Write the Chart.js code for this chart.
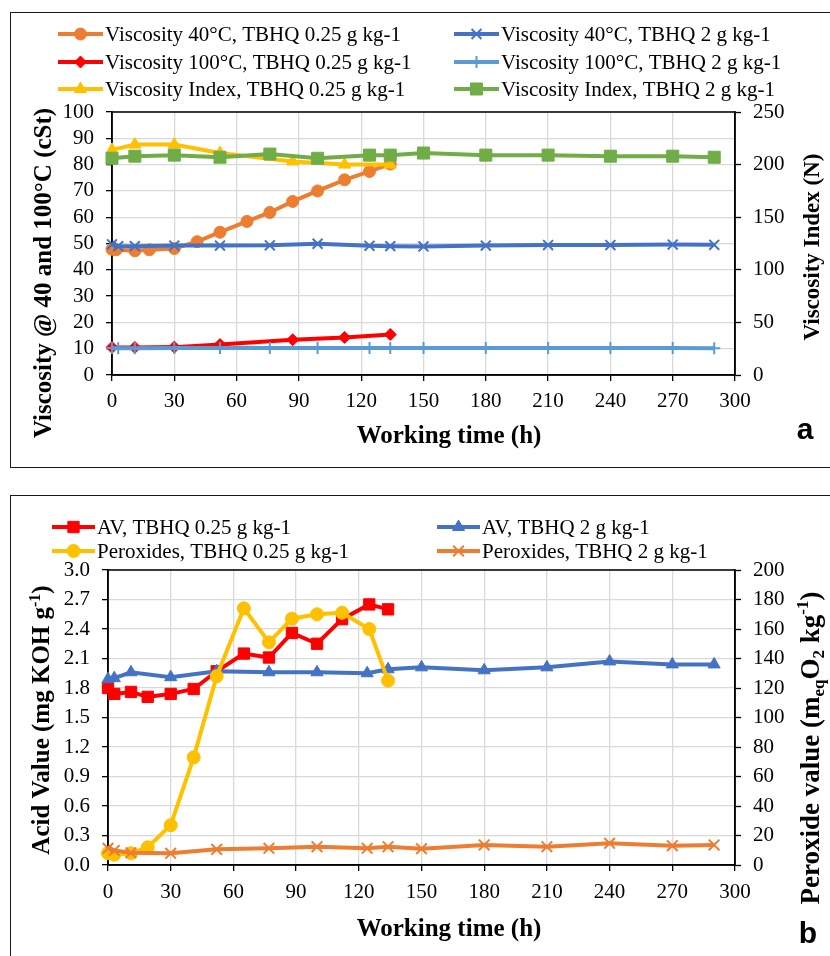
<!DOCTYPE html>
<html lang="en">
<head>
<meta charset="UTF-8">
<title>Viscosity, acid value and peroxides vs working time</title>
<script src="https://cdn.jsdelivr.net/npm/chart.js"></script>
<style>
  html, body { margin: 0; padding: 0; background: #fff; overflow: hidden; }
  body { width: 830px; height: 956px; position: relative; }
  .panel { position: absolute; border: 1.5px solid #1a1a1a; }
  #panelA { left: 10px; top: 12px; width: 840px; height: 454px; }
  #panelB { left: 10px; top: 495px; width: 840px; height: 480px; }
  canvas { position: absolute; left: 0; }
  #chartA { top: 0; }
  #chartB { top: 480px; }
</style>
</head>
<body>
<div class="panel" id="panelA"></div>
<div class="panel" id="panelB"></div>
<canvas id="chartA" width="830" height="467"></canvas>
<canvas id="chartB" width="830" height="476"></canvas>
<script>
// ---- data (a): working time (h) and readings ----
const tVisc40Low = [0, 2, 11, 18, 30, 41, 52, 65, 76, 87, 99, 112, 124, 134];
const visc40Low = [47.8, 47.6, 47.2, 47.6, 48.1, 50.7, 54.3, 58.4, 61.8, 66.0, 70.0, 74.2, 77.4, 80.2];
const tHigh = [0, 3, 11, 30, 52, 76, 99, 124, 134, 150, 180, 210, 240, 270, 290];
const visc40High = [49.7, 49.0, 49.0, 49.2, 49.2, 49.3, 49.9, 49.1, 49.0, 48.9, 49.2, 49.4, 49.4, 49.6, 49.5];
const tVisc100Low = [0, 11, 30, 52, 87, 112, 134];
const visc100Low = [10.5, 10.5, 10.6, 11.6, 13.4, 14.3, 15.4];
const visc100High = [10.3, 10.2, 10.2, 10.3, 10.3, 10.3, 10.3, 10.3, 10.3, 10.3, 10.3, 10.3, 10.3, 10.3, 10.2];
const viLow = [214, 219, 219, 211, 203, 200, 200];
const tViHigh = [0, 11, 30, 52, 76, 99, 124, 134, 150, 180, 210, 240, 270, 290];
const viHigh = [206, 208, 209, 207, 210, 206, 209, 209, 211, 209, 209, 208, 208, 207];

// ---- data (b) ----
const tLow = [0, 3, 11, 19, 30, 41, 52, 65, 77, 88, 100, 112, 125, 134];
const avLow = [1.80, 1.74, 1.76, 1.71, 1.74, 1.79, 1.97, 2.15, 2.11, 2.36, 2.25, 2.50, 2.65, 2.60];
const tAvHigh = [0, 3, 11, 30, 52, 77, 100, 124, 134, 150, 180, 210, 240, 270, 290];
const avHigh = [1.89, 1.90, 1.96, 1.91, 1.97, 1.96, 1.96, 1.95, 1.99, 2.01, 1.98, 2.01, 2.07, 2.04, 2.04];
const peroxLow = [8, 7, 8, 12, 27, 73, 128, 174, 151, 167, 170, 171, 160, 125];
const peroxHigh = [11.3, 9.9, 8.3, 7.9, 10.6, 11.3, 12.4, 11.3, 12.4, 11.0, 13.6, 12.4, 14.7, 13.1, 13.6];

const xTicks = [0, 30, 60, 90, 120, 150, 180, 210, 240, 270, 300];

const serif = '"Liberation Serif", "Times New Roman", serif';
const sans = '"Liberation Sans", Arial, sans-serif';

const pts = (t, v) => t.map((x, i) => ({ x: x, y: v[i] }));

function series(label, t, v, color, style, radius, axis, idx) {
  const cross = style === 'cross' || style === 'crossRot';
  return {
    label: label,
    data: pts(t, v),
    yAxisID: axis,
    showLine: true,
    borderColor: color,
    backgroundColor: color,
    borderWidth: 4,
    pointStyle: style,
    pointRadius: radius,
    pointHoverRadius: radius,
    pointBackgroundColor: color,
    pointBorderColor: color,
    pointBorderWidth: cross ? 2 : 1,
    clip: false,
    order: 10 - idx
  };
}

// draws text with sub/superscripts, centred on (cx, cy)
function drawRich(ctx, parts, cx, cy, rot, size, bold) {
  const small = Math.round(size * 0.62);
  const w = bold ? 'bold ' : '';
  ctx.save();
  ctx.translate(cx, cy);
  ctx.rotate(rot);
  ctx.textBaseline = 'middle';
  ctx.textAlign = 'left';
  ctx.fillStyle = '#000';
  let total = 0;
  const widths = parts.map(p => {
    ctx.font = w + (p[1] === 'n' ? size : small) + 'px ' + serif;
    const m = ctx.measureText(p[0]).width;
    total += m;
    return m;
  });
  let x = -total / 2;
  parts.forEach((p, i) => {
    ctx.font = w + (p[1] === 'n' ? size : small) + 'px ' + serif;
    const dy = p[1] === 'sub' ? size * 0.3 : p[1] === 'sup' ? -size * 0.3 : 0;
    ctx.fillText(p[0], x, dy);
    x += widths[i];
  });
  ctx.restore();
}

const decor = {
  id: 'decor',
  beforeDatasetsDraw(chart) {
    const a = chart.chartArea, ctx = chart.ctx;
    ctx.save();
    ctx.strokeStyle = '#000';
    ctx.lineWidth = 1.5;
    ctx.strokeRect(a.left, a.top, a.right - a.left, a.bottom - a.top);
    ctx.restore();
  },
  afterDraw(chart, args, o) {
    const ctx = chart.ctx;
    // legend, two columns, row-major
    chart.data.datasets.forEach((ds, i) => {
      const x0 = o.cols[i % 2], y = o.rows[Math.floor(i / 2)];
      ctx.save();
      ctx.strokeStyle = ds.borderColor;
      ctx.lineWidth = 4;
      ctx.beginPath();
      ctx.moveTo(x0, y);
      ctx.lineTo(x0 + o.sample, y);
      ctx.stroke();
      ctx.fillStyle = ds.pointBackgroundColor;
      ctx.strokeStyle = ds.pointBorderColor;
      ctx.lineWidth = ds.pointBorderWidth;
      Chart.helpers.drawPoint(ctx, { pointStyle: ds.pointStyle, radius: ds.pointRadius, rotation: 0, borderWidth: ds.pointBorderWidth }, x0 + o.sample / 2, y);
      ctx.fillStyle = '#000';
      ctx.font = '21px ' + serif;
      ctx.textBaseline = 'middle';
      ctx.textAlign = 'left';
      ctx.fillText(ds.label, x0 + o.sample + 2, y + 1);
      ctx.restore();
    });
    o.titles.forEach(t => drawRich(ctx, t.parts, t.x, t.y, t.rot, t.size, true));
    ctx.save();
    ctx.font = 'bold 30px ' + sans;
    ctx.textAlign = 'center';
    ctx.textBaseline = 'middle';
    ctx.fillStyle = '#000';
    ctx.fillText(o.letter[0], o.letter[1], o.letter[2]);
    ctx.restore();
  }
};

function axisX(h, pad) {
  return {
    type: 'linear', min: 0, max: 300,
    afterBuildTicks: s => { s.ticks = xTicks.map(v => ({ value: v })); },
    ticks: { color: '#000', font: { family: serif, size: 21 }, padding: pad, maxRotation: 0, autoSkip: false },
    grid: { color: '#d9d9d9', lineWidth: 1.3, tickLength: 6, tickColor: '#000', tickWidth: 1.3 },
    border: { color: '#000', width: 1.5 },
    afterFit: s => { s.height = h; }
  };
}

function axisY(pos, w, max, step, grid, fmt) {
  return {
    type: 'linear', position: pos, min: 0, max: max,
    ticks: { stepSize: step, autoSkip: false, color: '#000', font: { family: serif, size: 21 }, padding: 12, callback: fmt },
    grid: grid
      ? { color: '#d9d9d9', lineWidth: 1.3, tickLength: 6, tickColor: '#000', tickWidth: 1.3 }
      : { drawOnChartArea: false, tickLength: 6, tickColor: '#000', tickWidth: 1.3 },
    border: { color: '#000', width: 1.5 },
    afterFit: s => { s.width = w; }
  };
}

const common = {
  responsive: false,
  devicePixelRatio: 1,
  animation: false,
  events: []
};

const ORANGE = '#ED7D31', BLUE = '#4472C4', RED = '#FF0000', LBLUE = '#5B9BD5', YELLOW = '#FFC000', GREEN = '#70AD47';

new Chart(document.getElementById('chartA'), {
  type: 'scatter',
  data: {
    datasets: [
      series('Viscosity 40°C, TBHQ 0.25 g kg-1', tVisc40Low, visc40Low, ORANGE, 'circle', 6, 'y', 0),
      series('Viscosity 40°C, TBHQ 2 g kg-1', tHigh, visc40High, BLUE, 'crossRot', 7, 'y', 1),
      series('Viscosity 100°C, TBHQ 0.25 g kg-1', tVisc100Low, visc100Low, RED, 'rectRot', 6, 'y', 2),
      series('Viscosity 100°C, TBHQ 2 g kg-1', tHigh, visc100High, LBLUE, 'cross', 6, 'y', 3),
      series('Viscosity Index, TBHQ 0.25 g kg-1', tVisc100Low, viLow, YELLOW, 'triangle', 7, 'y2', 4),
      series('Viscosity Index, TBHQ 2 g kg-1', tViHigh, viHigh, GREEN, 'rect', 8.5, 'y2', 5)
    ]
  },
  options: Object.assign({}, common, {
    layout: { padding: { top: 112, left: 0, right: 0, bottom: 0 } },
    scales: {
      x: axisX(92, 8),
      y: axisY('left', 112, 100, 10, true),
      y2: axisY('right', 95, 250, 50, false)
    },
    plugins: {
      legend: { display: false },
      tooltip: { enabled: false },
      decor: {
        cols: [58, 454], rows: [34, 62, 89], sample: 45,
        titles: [
          { parts: [['Viscosity @ 40 and 100°C (cSt)', 'n']], x: 45, y: 273, rot: -Math.PI / 2, size: 25 },
          { parts: [['Viscosity Index (N)', 'n']], x: 813, y: 247, rot: -Math.PI / 2, size: 23 },
          { parts: [['Working time (h)', 'n']], x: 449, y: 437, rot: 0, size: 25 }
        ],
        letter: ['a', 805, 431]
      }
    }
  }),
  plugins: [decor]
});

new Chart(document.getElementById('chartB'), {
  type: 'scatter',
  data: {
    datasets: [
      series('AV, TBHQ 0.25 g kg-1', tLow, avLow, RED, 'rect', 8, 'y', 0),
      series('AV, TBHQ 2 g kg-1', tAvHigh, avHigh, BLUE, 'triangle', 7, 'y', 1),
      series('Peroxides, TBHQ 0.25 g kg-1', tLow, peroxLow, YELLOW, 'circle', 6.5, 'y2', 2),
      series('Peroxides, TBHQ 2 g kg-1', tAvHigh, peroxHigh, ORANGE, 'crossRot', 7.5, 'y2', 3)
    ]
  },
  options: Object.assign({}, common, {
    layout: { padding: { top: 90, left: 0, right: 0, bottom: 0 } },
    scales: {
      x: axisX(91, 9),
      y: axisY('left', 108, 3, 0.3, true, v => v.toFixed(1)),
      y2: axisY('right', 95, 200, 20, false)
    },
    plugins: {
      legend: { display: false },
      tooltip: { enabled: false },
      decor: {
        cols: [52, 437], rows: [47, 71], sample: 43,
        titles: [
          { parts: [['Acid Value (mg KOH g', 'n'], ['-1', 'sup'], [')', 'n']], x: 43, y: 240, rot: -Math.PI / 2, size: 25 },
          { parts: [['Peroxide value (m', 'n'], ['eq', 'sub'], ['O', 'n'], ['2', 'sub'], [' kg', 'n'], ['-1', 'sup'], [')', 'n']], x: 812, y: 268, rot: -Math.PI / 2, size: 27 },
          { parts: [['Working time (h)', 'n']], x: 449, y: 450, rot: 0, size: 25 }
        ],
        letter: ['b', 808, 455]
      }
    }
  }),
  plugins: [decor]
});
</script>
</body>
</html>
